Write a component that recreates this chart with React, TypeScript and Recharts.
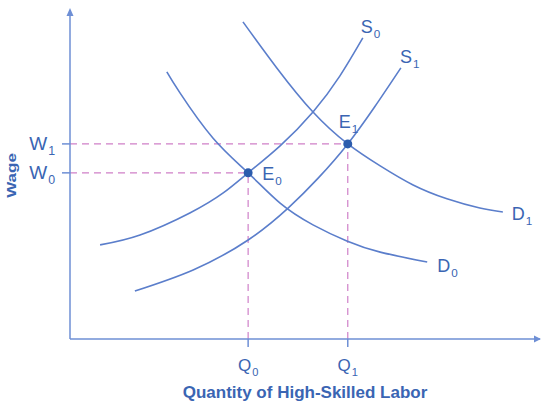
import { LineChart, Line, XAxis, YAxis, ReferenceLine, ReferenceDot } from "recharts"

// quantity (x) and wage (y), both on a 0-100 scale
const s0Curve = [
  { q: 6.4, w: 28.6 },
  { q: 14.9, w: 31.6 },
  { q: 25.5, w: 38.3 },
  { q: 32.6, w: 44.4 },
  { q: 37.9, w: 50.5 },
  { q: 44.7, w: 58.7 },
  { q: 51.7, w: 69.0 },
  { q: 57.4, w: 79.9 },
  { q: 62.3, w: 91.5 },
]
const s1Curve = [
  { q: 13.8, w: 14.6 },
  { q: 26.2, w: 21.0 },
  { q: 37.9, w: 30.1 },
  { q: 46.4, w: 39.8 },
  { q: 52.8, w: 48.9 },
  { q: 59.1, w: 59.3 },
  { q: 64.8, w: 70.5 },
  { q: 70.4, w: 82.4 },
]
const d0Curve = [
  { q: 20.6, w: 81.2 },
  { q: 23.4, w: 74.8 },
  { q: 30.4, w: 61.1 },
  { q: 37.9, w: 50.5 },
  { q: 44.7, w: 41.3 },
  { q: 51.7, w: 34.7 },
  { q: 58.9, w: 29.8 },
  { q: 66.0, w: 26.4 },
  { q: 76.0, w: 23.4 },
]
const d1Curve = [
  { q: 36.8, w: 96.4 },
  { q: 44.0, w: 82.4 },
  { q: 51.7, w: 69.0 },
  { q: 59.1, w: 59.3 },
  { q: 66.0, w: 52.6 },
  { q: 73.0, w: 46.8 },
  { q: 80.2, w: 42.6 },
  { q: 87.2, w: 39.8 },
  { q: 92.1, w: 38.6 },
]

const curveNames = ["S0", "S1", "D0", "D1"]
const equilibriumNames = ["E0", "E1"]
const quantityTicks = [37.9, 59.1]
const wageTicks = [50.5, 59.3]
const quantityLabels = ["Q0", "Q1"]
const wageLabels = ["W0", "W1"]

const CURVE = "#5b7ecb"
const AXIS = "#6e8fd5"
const TEXT = "#3a65b3"
const DASH = "#cf80c8"
const DOT = "#2c5cad"
const FONT = "'Liberation Sans Narrow', 'Liberation Sans', Arial, sans-serif"
const BOLD_FONT = "'Liberation Sans', Arial, sans-serif"

// text whose last character is a subscript, e.g. "S0"
function SubText({ x, y, text, size = 18, anchor = "start" }: any) {
  return (
    <text x={x} y={y} fill={TEXT} fontSize={size} fontFamily={FONT} textAnchor={anchor}>
      {text.slice(0, -1)}
      <tspan fontSize={size * 0.65} dx={1} dy={5}>
        {text.slice(-1)}
      </tspan>
    </text>
  )
}

function QTick(props: any) {
  const { x, y, payload } = props
  const i = quantityTicks.indexOf(payload.value)
  return <SubText x={x} y={y + 24} text={quantityLabels[i]} size={17} anchor="middle" />
}

function WTick(props: any) {
  const { x, y, payload } = props
  const i = wageTicks.indexOf(payload.value)
  return <SubText x={x - 7} y={y + 6} text={wageLabels[i]} size={19} anchor="end" />
}

function XTitle(props: any) {
  const vb = props.viewBox
  return (
    <text
      x={vb.x + vb.width / 2}
      y={vb.y + 59}
      textAnchor="middle"
      fill={TEXT}
      fontSize={17}
      fontWeight="bold"
      fontFamily={BOLD_FONT}
    >
      Quantity of High-Skilled Labor
    </text>
  )
}

function YTitle(props: any) {
  const vb = props.viewBox
  const cx = vb.x - 14
  const cy = vb.y + vb.height / 2 + 1
  return (
    <text
      transform={`translate(${cx},${cy}) rotate(-90) scale(1,0.72)`}
      textAnchor="middle"
      fill={TEXT}
      fontSize={17}
      fontWeight="bold"
      fontFamily={BOLD_FONT}
    >
      Wage
    </text>
  )
}

export default function App() {
  const curves = [s0Curve, s1Curve, d0Curve, d1Curve]
  const labelOffsets = [
    [-2, -5],
    [-1, -5],
    [10, 10],
    [9, 8],
  ]
  const eqOffsets = [
    [14, 7],
    [-9, -16],
  ]
  const dash = { stroke: DASH, strokeWidth: 1.2, strokeDasharray: "7 5", ifOverflow: "visible" as const }

  return (
    <div style={{ position: "absolute", left: 0, top: 0, width: 541, height: 406, background: "#fff" }}>
      <LineChart width={541} height={406} margin={{ top: 10, right: 1, left: 30, bottom: 7 }}>
        <XAxis
          dataKey="q"
          type="number"
          domain={[0, 100]}
          ticks={quantityTicks}
          interval={0}
          tickSize={8}
          tickMargin={0}
          height={60}
          axisLine={{ stroke: AXIS, strokeWidth: 1.5 }}
          tickLine={{ stroke: AXIS, strokeWidth: 1.5 }}
          tick={<QTick />}
          label={<XTitle />}
          allowDataOverflow
        />
        <YAxis
          dataKey="w"
          type="number"
          domain={[0, 100]}
          ticks={wageTicks}
          interval={0}
          tickSize={8}
          tickMargin={0}
          width={40}
          axisLine={{ stroke: AXIS, strokeWidth: 1.5 }}
          tickLine={{ stroke: AXIS, strokeWidth: 1.5 }}
          tick={<WTick />}
          label={<YTitle />}
          allowDataOverflow
        />

        {/* dashed guides from the equilibria to the axes */}
        <ReferenceLine segment={[{ x: 0, y: wageTicks[0] }, { x: quantityTicks[0], y: wageTicks[0] }]} {...dash} />
        <ReferenceLine segment={[{ x: 0, y: wageTicks[1] }, { x: quantityTicks[1], y: wageTicks[1] }]} {...dash} />
        <ReferenceLine segment={[{ x: quantityTicks[0], y: 0 }, { x: quantityTicks[0], y: wageTicks[0] }]} {...dash} />
        <ReferenceLine segment={[{ x: quantityTicks[1], y: 0 }, { x: quantityTicks[1], y: wageTicks[1] }]} {...dash} />

        {curves.map((c, i) => (
          <Line
            key={curveNames[i]}
            data={c}
            dataKey="w"
            type="natural"
            stroke={CURVE}
            strokeWidth={1.6}
            dot={false}
            activeDot={false}
            isAnimationActive={false}
          />
        ))}

        {curves.map((c, i) => {
          const end = c[c.length - 1]
          return (
            <ReferenceDot
              key={"lbl" + i}
              x={end.q}
              y={end.w}
              ifOverflow="visible"
              shape={(p: any) => (
                <SubText x={p.cx + labelOffsets[i][0]} y={p.cy + labelOffsets[i][1]} text={curveNames[i]} />
              )}
            />
          )
        })}

        {equilibriumNames.map((name, i) => (
          <ReferenceDot
            key={name}
            x={quantityTicks[i]}
            y={wageTicks[i]}
            ifOverflow="visible"
            shape={(p: any) => (
              <g>
                <circle cx={p.cx} cy={p.cy} r={4.5} fill={DOT} />
                <SubText x={p.cx + eqOffsets[i][0]} y={p.cy + eqOffsets[i][1]} text={name} />
              </g>
            )}
          />
        ))}

        {/* arrowheads */}
        <ReferenceDot
          x={100}
          y={0}
          ifOverflow="visible"
          shape={(p: any) => (
            <path d={`M${p.cx + 1},${p.cy} L${p.cx - 6},${p.cy - 3.5} L${p.cx - 6},${p.cy + 3.5} Z`} fill={AXIS} />
          )}
        />
        <ReferenceDot
          x={0}
          y={100}
          ifOverflow="visible"
          shape={(p: any) => (
            <path d={`M${p.cx},${p.cy - 2} L${p.cx - 3.5},${p.cy + 6} L${p.cx + 3.5},${p.cy + 6} Z`} fill={AXIS} />
          )}
        />
      </LineChart>
    </div>
  )
}
